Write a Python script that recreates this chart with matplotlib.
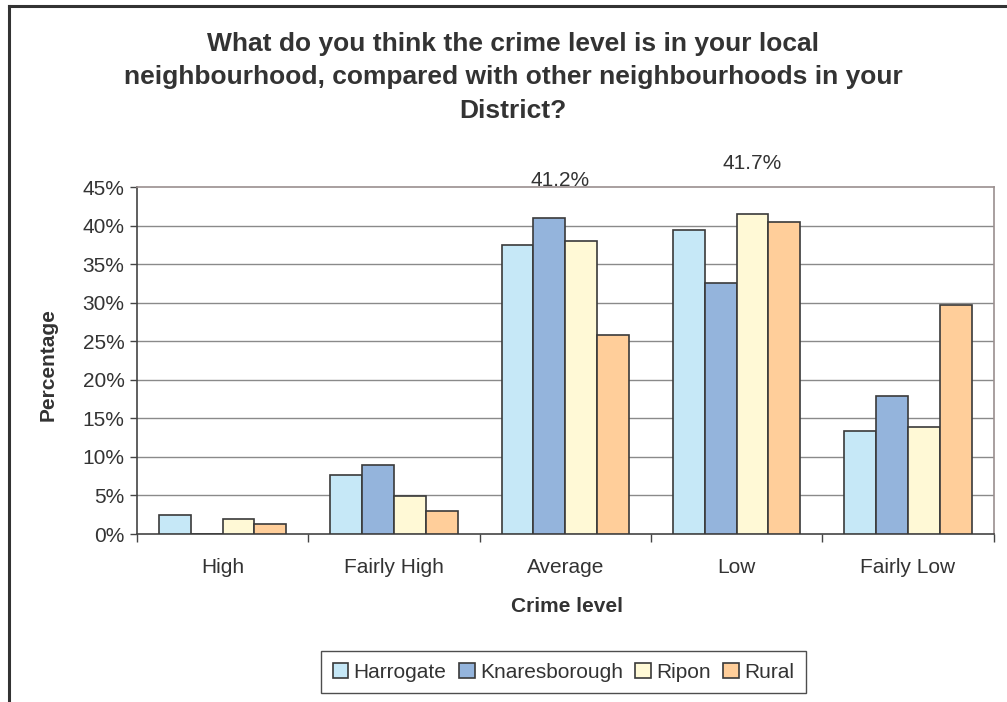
# Crime level perception by area - grouped bar chart
import numpy as np
import matplotlib.pyplot as plt
from matplotlib.lines import Line2D

plt.rcParams['font.family'] = ['Liberation Sans', 'DejaVu Sans']

categories = ["High", "Fairly High", "Average", "Low", "Fairly Low"]
areas = ["Harrogate", "Knaresborough", "Ripon", "Rural"]
harrogate = [2.5, 7.7, 37.5, 39.4, 13.4]
knaresborough = [0.0, 9.0, 41.0, 32.6, 17.9]
ripon = [2.0, 4.9, 38.0, 41.5, 13.9]
rural = [1.3, 3.0, 25.8, 40.5, 29.7]
colors = ["#C6E8F7", "#94B4DC", "#FFF9D6", "#FFCE9A"]
yticks = [0, 5, 10, 15, 20, 25, 30, 35, 40, 45]

text_col = "#333333"
fs = 15

fig = plt.figure(figsize=(10.07, 7.02), dpi=100)
ax = fig.add_axes([0.136, 0.2393, 0.8506, 0.4943])

x = np.arange(len(categories))
w = 0.186
series = [harrogate, knaresborough, ripon, rural]
for i, (name, vals) in enumerate(zip(areas, series)):
    ax.bar(x + (i - 1.5) * w, vals, width=w, color=colors[i], edgecolor="#3a3a3a",
           linewidth=1.2, label=name, zorder=3)

# odd data labels sitting above the plot area
ax.text(2 - 0.03, 45.9, "41.2%", ha="center", va="center", fontsize=fs, color=text_col, clip_on=False)
ax.text(3 + 0.5 * w, 48.1, "41.7%", ha="center", va="center", fontsize=fs, color=text_col, clip_on=False)

ax.set_xlim(-0.5, 4.5)
ax.set_ylim(0, 45)
ax.set_yticks(yticks)
ax.set_yticklabels([f"{v}%" for v in yticks], fontsize=fs, color=text_col)
ax.set_xticks(x)
ax.set_xticklabels(categories, fontsize=fs, color=text_col)
ax.set_xticks(np.arange(-0.5, 5, 1), minor=True)
ax.tick_params(axis="x", which="major", length=0, pad=17)
ax.tick_params(axis="x", which="minor", length=6, width=1, color="#444444")
ax.tick_params(axis="y", length=5, width=1, color="#444444", pad=4)

for v in yticks[1:-1]:
    ax.axhline(v, color="#8a8a8a", linewidth=1, zorder=1)

ax.spines["left"].set_color("#444444")
ax.spines["bottom"].set_color("#444444")
ax.spines["top"].set_color("#9a8f8f")
ax.spines["right"].set_color("#9a8f8f")
for s in ax.spines.values():
    s.set_linewidth(1.2)

fig.text(0.5094, 1 - 77 / 702,
         "What do you think the crime level is in your local\n"
         "neighbourhood, compared with other neighbourhoods in your\n"
         "District?",
         ha="center", va="center", fontsize=19, fontweight="bold", color=text_col, linespacing=1.5)
fig.text(48 / 1007, 1 - 365 / 702, "Percentage", rotation=90, ha="center", va="center",
         fontsize=fs, fontweight="bold", color=text_col)
fig.text(567 / 1007, 1 - 607 / 702, "Crime level", ha="center", va="center",
         fontsize=fs, fontweight="bold", color=text_col)

leg = fig.legend(loc="lower center", bbox_to_anchor=(0.5596, 0.0128), ncol=4, fontsize=fs,
                 frameon=True, fancybox=False, edgecolor="#222222", handlelength=0.75,
                 handleheight=0.75, handletextpad=0.25, columnspacing=0.6, borderpad=0.55,
                 borderaxespad=0)
leg.get_frame().set_linewidth(1)
for t in leg.get_texts():
    t.set_color(text_col)

# outer chart frame (top and left edges only visible)
fig.add_artist(Line2D([9 / 1007, 9 / 1007], [0, 1 - 6 / 702], color="#333333", linewidth=2.2))
fig.add_artist(Line2D([9 / 1007, 1], [1 - 6 / 702, 1 - 6 / 702], color="#333333", linewidth=2.2))

fig.savefig("out.png", dpi=100)
